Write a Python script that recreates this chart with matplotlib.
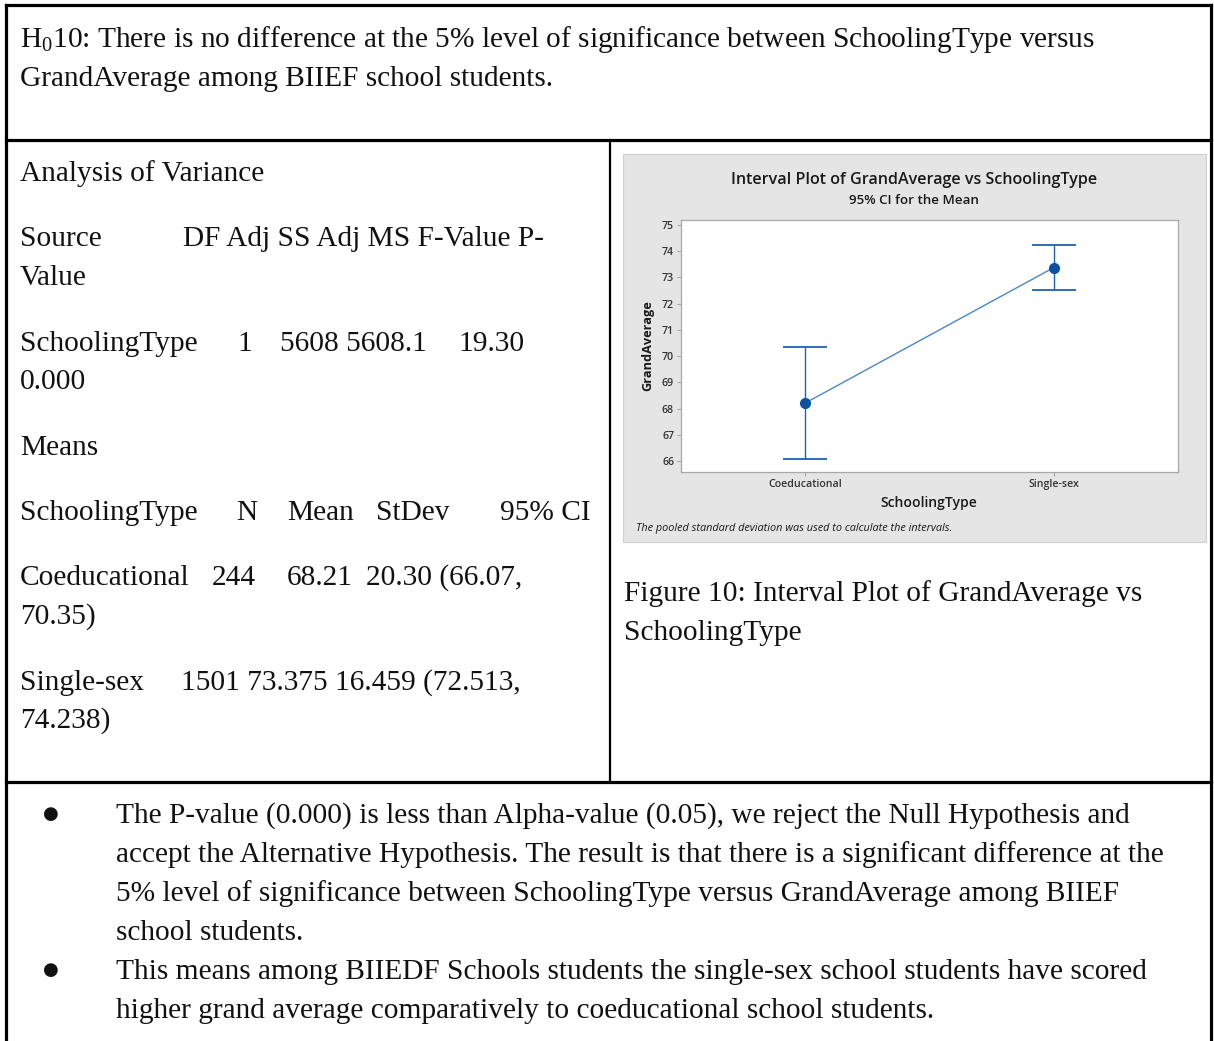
import matplotlib.pyplot as plt
import numpy as np

plt.rcParams['mathtext.default'] = 'regular'

# interval plot data
schooling_types = ["Coeducational", "Single-sex"]
group_n = [244, 1501]
means = [68.21, 73.375]
stdevs = [20.30, 16.459]
ci_low = [66.07, 72.513]
ci_high = [70.35, 74.238]
decimals = [2, 3]
y_ticks = [66, 67, 68, 69, 70, 71, 72, 73, 74, 75]

W, H = 1214, 1041
serif = ['Liberation Serif', 'DejaVu Serif']
sans = ['Open Sans', 'DejaVu Sans']
FS = 21.15

fig = plt.figure(figsize=(W / 100, H / 100), dpi=100)
fig.patch.set_facecolor('white')

# page axes in pixel coordinates, y pointing down
page = fig.add_axes([0, 0, 1, 1])
page.set_xlim(0, W)
page.set_ylim(H, 0)
page.axis('off')


def txt(x, y, s, **kw):
    opts = dict(fontsize=FS, family=serif, va='baseline', ha='left', color='#111111')
    opts.update(kw)
    page.text(x, y, s, **opts)


# table frame
lw_thick = 2.3
page.plot([6, 1211], [5, 5], color='black', lw=lw_thick, solid_capstyle='projecting')
page.plot([6, 6], [5, H], color='black', lw=lw_thick)
page.plot([1211, 1211], [5, H], color='black', lw=lw_thick)
page.plot([6, 1211], [140, 140], color='black', lw=lw_thick)
page.plot([6, 1211], [782, 782], color='black', lw=lw_thick)
page.plot([610, 610], [140, 782], color='black', lw=1.6)

# hypothesis
txt(20, 47, r"H$_0$10: There is no difference at the 5% level of significance between SchoolingType versus")
txt(20, 86, "GrandAverage among BIIEF school students.")

# ANOVA output
txt(20, 181, "Analysis of Variance")
txt(20, 246, "Source")
txt(183, 246, "DF Adj SS Adj MS F-Value P-")
txt(20, 285, "Value")
txt(20, 351, "SchoolingType")
txt(237, 351, "1")
txt(280, 351, "5608 5608.1")
txt(458, 351, "19.30")
txt(20, 389, "0.000")
txt(20, 455, "Means")
txt(20, 520, "SchoolingType")
txt(236, 520, "N")
txt(287, 520, "Mean")
txt(376, 520, "StDev")
txt(500, 520, "95% CI")

d = decimals[0]
txt(20, 585, schooling_types[0])
txt(212, 585, f"{group_n[0]}")
txt(287, 585, f"{means[0]:.{d}f}")
txt(366, 585, f"{stdevs[0]:.{d}f} ({ci_low[0]:.{d}f},")
txt(20, 624, f"{ci_high[0]:.{d}f})")
d = decimals[1]
txt(20, 690, schooling_types[1])
txt(181, 690, f"{group_n[1]} {means[1]:.{d}f} {stdevs[1]:.{d}f} ({ci_low[1]:.{d}f},")
txt(20, 728, f"{ci_high[1]:.{d}f})")

# caption
txt(624, 601, "Figure 10: Interval Plot of GrandAverage vs")
txt(624, 640, "SchoolingType")

# conclusions
bullets = [
    ["The P-value (0.000) is less than Alpha-value (0.05), we reject the Null Hypothesis and",
     "accept the Alternative Hypothesis. The result is that there is a significant difference at the",
     "5% level of significance between SchoolingType versus GrandAverage among BIIEF",
     "school students."],
    ["This means among BIIEDF Schools students the single-sex school students have scored",
     "higher grand average comparatively to coeducational school students."],
]
yb = 823
for lines in bullets:
    page.text(51, yb - 9, "\u25cf", fontsize=13, family=['DejaVu Sans'],
              ha='center', va='center', color='#111111')
    for line in lines:
        txt(116, yb, line)
        yb += 39

# minitab style panel
page.add_patch(plt.Rectangle((623, 154), 583, 388, facecolor='#e5e5e5',
                             edgecolor='#cfcfcf', lw=0.8))
page.text(914, 180, "Interval Plot of GrandAverage vs SchoolingType", ha='center', va='center',
          fontsize=11.6, family=sans, fontweight='semibold', color='#1a1a1a')
page.text(914, 200, "95% CI for the Mean", ha='center', va='center',
          fontsize=9.6, family=sans, fontweight='semibold', color='#1a1a1a')
page.text(648, 346, "GrandAverage", ha='center', va='center', rotation=90,
          fontsize=9.2, family=sans, fontweight='bold', color='#1a1a1a')
page.text(929, 503, "SchoolingType", ha='center', va='center',
          fontsize=10, family=sans, fontweight='semibold', color='#1a1a1a')
page.text(636, 529, "The pooled standard deviation was used to calculate the intervals.",
          ha='left', va='center', fontsize=7.8, family=sans, style='italic', color='#1a1a1a')

ax = fig.add_axes([681 / W, 1 - 472 / H, 497 / W, 252 / H])
ax.set_facecolor('white')
xpos = np.arange(1, len(means) + 1)
m = np.array(means)
err = np.vstack([m - np.array(ci_low), np.array(ci_high) - m])
ax.plot(xpos, m, color='#4a86c8', lw=1.0, zorder=2)
ax.errorbar(xpos, m, yerr=err, fmt='none', ecolor='#1f62ad', elinewidth=1.0,
            capsize=16, capthick=1.3, zorder=3)
ax.plot(xpos, m, 'o', color='#0a52a0', markersize=7, zorder=4)
ax.set_xlim(0.5, 2.5)
ax.set_ylim(65.58, 75.19)
ax.set_yticks(y_ticks)
ax.set_xticks(xpos)
ax.set_xticklabels(schooling_types)
for s in ax.spines.values():
    s.set_color('#a8a8a8')
    s.set_linewidth(0.9)
ax.tick_params(axis='both', colors='#a8a8a8', length=3, width=0.8, labelsize=7.7,
               labelcolor='#333333', pad=2)
for lab in ax.get_yticklabels() + ax.get_xticklabels():
    lab.set_family(sans)
    lab.set_fontweight('semibold')

fig.savefig('out.png', dpi=100)
